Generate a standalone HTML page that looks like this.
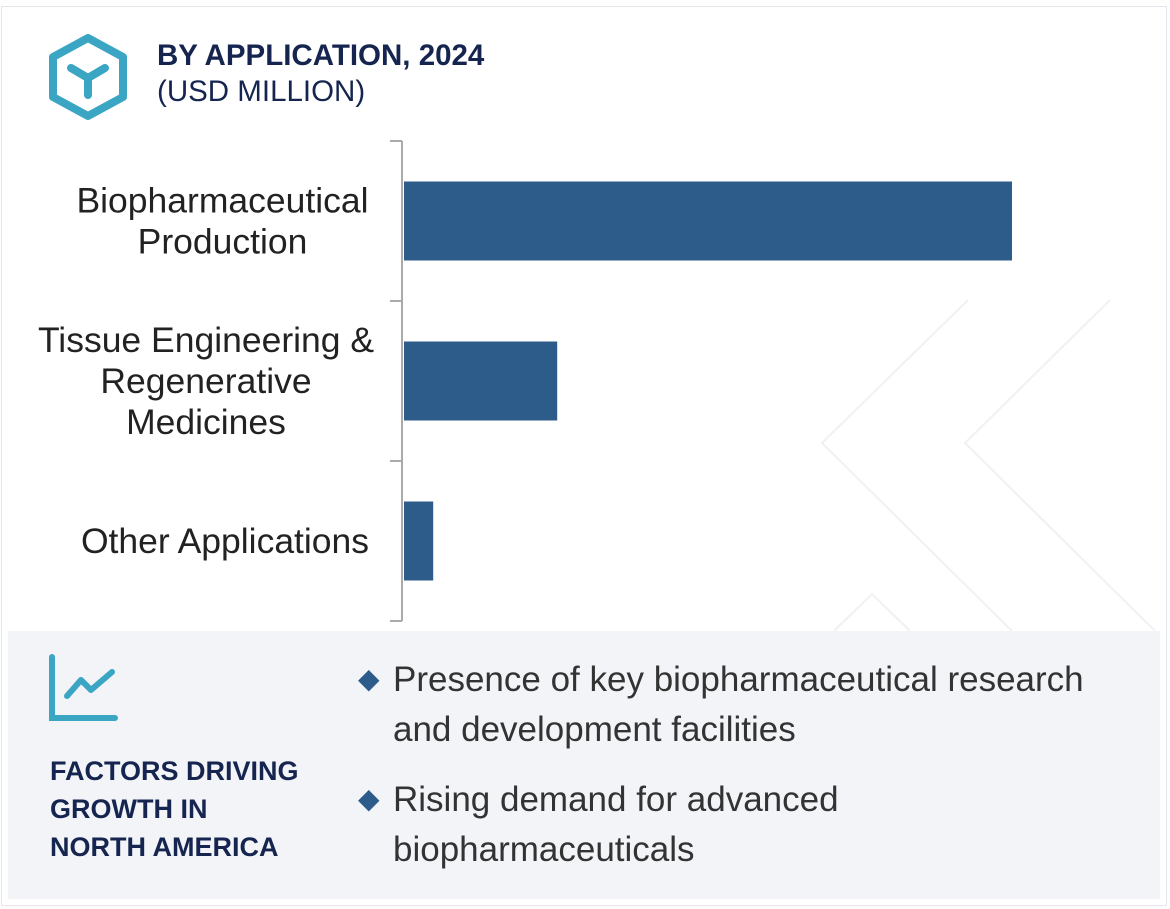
<!DOCTYPE html>
<html><head><meta charset="utf-8"><style>
body{margin:0;width:1170px;height:909px;background:#fff;font-family:"Liberation Sans",Roboto,sans-serif;overflow:hidden;position:relative}
.t{position:absolute;white-space:nowrap}
</style></head><body>
<div style="position:absolute;left:1px;top:6px;width:1166px;height:900px;border:1px solid #e4e5ea;box-sizing:border-box"></div>
<svg width="1170" height="909" style="position:absolute;left:0;top:0">
<g fill="none" stroke="#f1f1f3" stroke-width="2">
<polyline points="968,300 822,443 1012,631"/>
<polyline points="1110,300 965,443 1155,631"/>
<polyline points="834,631 872,594 910,631"/>
</g></svg>
<svg width="90" height="90" style="position:absolute;left:45px;top:33px">
<polygon points="43,5 78,24 78,64 43,83 8,64 8,24" fill="none" stroke="#3aa6c4" stroke-width="8" stroke-linejoin="round"/>
<path d="M26,35 L43,45 L60,35 M43,45 L43,62" fill="none" stroke="#3aa6c4" stroke-width="8" stroke-linecap="round"/>
</svg>
<div class="t" style="left:157px;top:39px;font-size:29.5px;font-weight:bold;color:#15254f">BY APPLICATION, 2024</div>
<div class="t" style="left:157px;top:75px;font-size:29.5px;color:#15254f">(USD MILLION)</div>
<svg id="chart" width="1170" height="630" style="position:absolute;left:0;top:0"></svg>
<div style="position:absolute;left:8px;top:631px;width:1152px;height:268px;background:#f3f4f8"></div>
<svg width="80" height="75" style="position:absolute;left:45px;top:652px">
<path d="M7,5 L7,66 L70,66" fill="none" stroke="#3aa6c4" stroke-width="6" stroke-linecap="round"/>
<path d="M22,44 L36,28 L46,38 L67,20" fill="none" stroke="#3aa6c4" stroke-width="6" stroke-linecap="round" stroke-linejoin="round"/>
</svg>
<div class="t" style="left:50px;top:752px;font-size:27px;font-weight:bold;color:#15254f;line-height:38px">FACTORS DRIVING<br>GROWTH IN<br>NORTH AMERICA</div>
<div class="t" style="left:358px;top:656px;font-size:35px;color:#333;line-height:48px"><span style="color:#2d5b8a;font-size:28px;position:relative;top:-3px">◆</span><span style="position:absolute;left:35px">Presence of key biopharmaceutical research</span><br><span style="position:absolute;left:35px">and development facilities</span></div>
<div class="t" style="left:358px;top:776px;font-size:35px;color:#333;line-height:48px"><span style="color:#2d5b8a;font-size:28px;position:relative;top:-3px">◆</span><span style="position:absolute;left:35px">Rising demand for advanced</span><br><span style="position:absolute;left:35px">biopharmaceuticals</span></div>
<script>
const categories=[["Biopharmaceutical","Production"],["Tissue Engineering &","Regenerative","Medicines"],["Other Applications"]];
const values=[1520,383,73];
const svg=document.getElementById('chart');
const NS='http://www.w3.org/2000/svg';
const x0=404,pxPerUnit=0.4;
const xs=v=>x0+v*pxPerUnit;
const bandTop=141,band=160;
function mk(t,a){const e=document.createElementNS(NS,t);for(const k in a)e.setAttribute(k,a[k]);svg.appendChild(e);return e;}
const ax=mk('line',{x1:402,y1:bandTop,x2:402,y2:bandTop+band*3,stroke:'#aaa','stroke-width':2});


for(let i=0;i<=3;i++){const tk=mk('line',{x1:390,x2:402,y1:bandTop+band*i,y2:bandTop+band*i,stroke:'#aaa','stroke-width':2});

}
const centers=[222.5,206,225];
values.forEach((v,i)=>{
const yc=bandTop+band*i+band/2;
const r=mk('rect',{x:x0,y:yc-39.5,width:xs(v)-x0,height:79,fill:'#2d5b8a'});


const lines=categories[i];
const t=mk('text',{x:0,y:0,'font-size':35.5,fill:'#222','text-anchor':'middle','font-family':'Liberation Sans, sans-serif'});


const lh=41,start=yc-(lines.length-1)*lh/2+12;
lines.forEach((s,j)=>{const ts=document.createElementNS(NS,'tspan');ts.setAttribute('x',centers[i]);ts.setAttribute('y',start+j*lh);ts.textContent=s;t.appendChild(ts);});
});
</script>
</body></html>
